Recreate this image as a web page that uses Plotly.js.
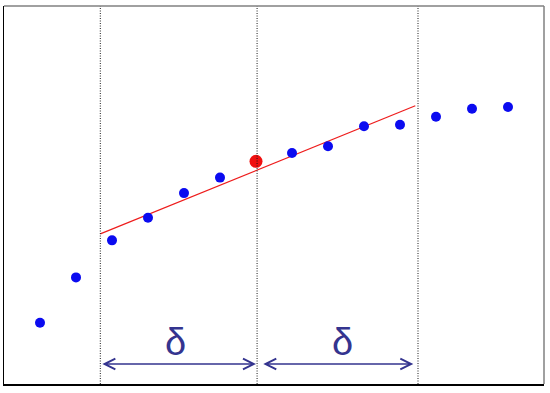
<!DOCTYPE html>
<html>
<head>
<meta charset="utf-8">
<script src="https://cdn.plot.ly/plotly-3.0.1.min.js"></script>
<style>html,body{margin:0;padding:0;background:#fff;}#chart{width:550px;height:393px;}</style>
</head>
<body>
<div id="chart"></div>
<script>
// data
const xs = [1, 2, 3, 4, 5, 6, 8, 9, 10, 11, 12, 13, 14];
const ys = [1.62, 2.82, 3.80, 4.40, 5.05, 5.46, 6.11, 6.29, 6.82, 6.86, 7.07, 7.28, 7.33];
const focusX = [7];
const focusY = [5.89];
const fitX = [2.675, 11.425];
const fitY = [3.97, 7.36];
const windowLines = [2.675, 7.03, 11.5];
const arrowY = 0.53;
const leftArrow = [2.69, 7.0];
const rightArrow = [7.16, 11.37];
const deltaLabelX = [4.76, 9.41];
const deltaLabelY = 1.11;
const deltaText = 'δ';

const navy = '#34348f';

const traces = [
  {x: fitX, y: fitY, mode: 'lines', line: {color: '#ee1c1c', width: 1.2}, hoverinfo: 'skip'},
  {x: xs, y: ys, mode: 'markers', marker: {color: '#0b0bf0', size: 10}},
  {x: focusX, y: focusY, mode: 'markers', marker: {color: '#f01010', size: 13}}
];

const shapes = windowLines.map(v => ({
  type: 'line', xref: 'x', yref: 'paper', x0: v, x1: v, y0: 0, y1: 1,
  line: {color: '#1a1a1a', width: 1, dash: '1px,1.5px'}
}));
// frame: top and right in grey
shapes.push({type: 'line', xref: 'paper', yref: 'paper', x0: 0, x1: 1, y0: 1, y1: 1, line: {color: '#808080', width: 1.5}});
shapes.push({type: 'line', xref: 'paper', yref: 'paper', x0: 1, x1: 1, y0: 0, y1: 1, line: {color: '#808080', width: 1.5}});

function arrow(a, b) {
  return {
    x: b, y: arrowY, ax: a, ay: arrowY, xref: 'x', yref: 'y', axref: 'x', ayref: 'y',
    text: '', showarrow: true, arrowhead: 5, startarrowhead: 5, arrowside: 'end+start',
    arrowsize: 1.4, startarrowsize: 1.4, arrowwidth: 1.5, arrowcolor: navy, standoff: 0, startstandoff: 0
  };
}

const annotations = [
  arrow(leftArrow[0], leftArrow[1]),
  arrow(rightArrow[0], rightArrow[1])
];
deltaLabelX.forEach(v => annotations.push({
  x: v, y: deltaLabelY, xref: 'x', yref: 'y', text: deltaText, showarrow: false,
  font: {family: 'Liberation Sans, Arial, sans-serif', size: 38, color: navy}
}));

const layout = {
  width: 550, height: 393,
  margin: {l: 4, r: 6, t: 6, b: 9, pad: 0},
  paper_bgcolor: '#ffffff', plot_bgcolor: '#ffffff',
  showlegend: false,
  xaxis: {range: [0, 15], showgrid: false, zeroline: false, showticklabels: false, ticks: '',
          showline: true, linecolor: '#000000', linewidth: 1.5},
  yaxis: {range: [0, 10], showgrid: false, zeroline: false, showticklabels: false, ticks: '',
          showline: true, linecolor: '#000000', linewidth: 1.5},
  shapes: shapes,
  annotations: annotations
};

Plotly.newPlot('chart', traces, layout, {displayModeBar: false, staticPlot: true});
</script>
</body>
</html>
